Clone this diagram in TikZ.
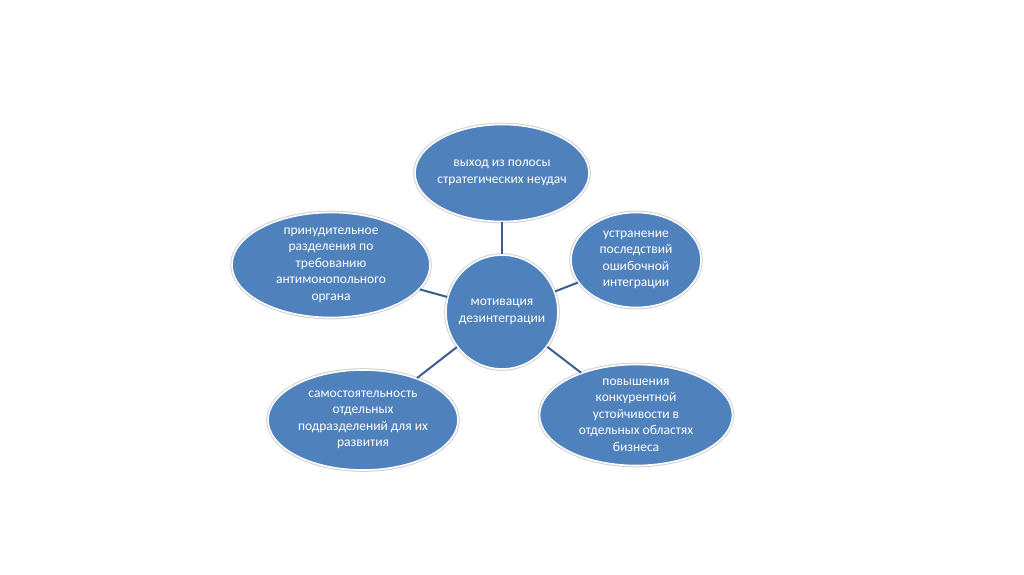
\documentclass[tikz,border=0pt]{standalone}
\usepackage{fontspec}
\setmainfont{Carlito}
\usetikzlibrary{shapes.geometric}
\definecolor{bubble}{HTML}{4F81BD}
\definecolor{link}{HTML}{3B5E8C}
\tikzset{
  bub/.style={ellipse, fill=bubble, draw=white, line width=1.6pt, inner sep=0pt,
    preaction={draw=black!18, line width=3.6pt}},
  lbl/.style={text=white, align=center, font=\fontsize{13.5}{16.5}\selectfont, inner sep=0pt},
  conn/.style={draw=link, line width=2pt}
}
\begin{document}
\begin{tikzpicture}[x=1pt,y=-1pt]
\useasboundingbox (0,0) rectangle (1024,574);
\fill[white] (0,0) rectangle (1024,574);
\node[bub, minimum width=174pt, minimum height=97pt] (top) at (502,173) {};
\node[bub, minimum width=112pt, minimum height=114pt] (mid) at (502,312) {};
\node[bub, minimum width=198pt, minimum height=105pt] (lft) at (331,265) {};
\node[bub, minimum width=130pt, minimum height=95pt] (rgt) at (636,260) {};
\node[bub, minimum width=190pt, minimum height=100pt] (bl) at (363,420) {};
\node[bub, minimum width=193pt, minimum height=101pt] (br) at (636,415) {};
\draw[conn] (mid) -- (top);
\draw[conn] (mid) -- (lft);
\draw[conn] (mid) -- (rgt);
\draw[conn] (mid) -- (bl);
\draw[conn] (mid) -- (br);
\node[lbl] (ttop) at (top.center) {выход из полосы\\стратегических неудач};
\node[lbl] (tmid) at (mid.center) {мотивация\\дезинтеграции};
\node[lbl] (tlft) at (lft.center) {принудительное\\разделения по\\требованию\\антимонопольного\\органа};
\node[lbl] (trgt) at (rgt.center) {устранение\\последствий\\ошибочной\\интеграции};
\node[lbl] (tbl) at (bl.center) {самостоятельность\\отдельных\\подразделений для их\\развития};
\node[lbl] (tbr) at (br.center) {повышения\\конкурентной\\устойчивости в\\отдельных областях\\бизнеса};
\end{tikzpicture}
\end{document}
